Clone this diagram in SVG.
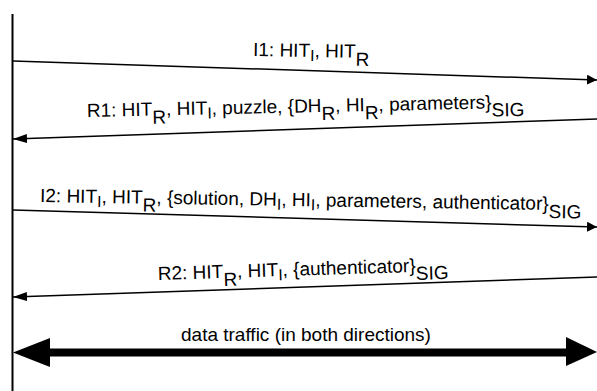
<svg xmlns="http://www.w3.org/2000/svg" width="597" height="391" viewBox="0 0 597 391">
<style>
text{font-family:"Liberation Sans",Arial,sans-serif;font-size:19px;fill:#000}
.si{font-size:16px}
.sr{font-size:19px}
.msg{stroke:#000;stroke-width:1.5;fill:none}
</style>
<defs>
<marker id="ah" viewBox="0 0 10 10" refX="10" refY="5" markerWidth="10" markerHeight="10" markerUnits="userSpaceOnUse" orient="auto">
<path d="M0,0 L10,5 L0,10 Z" fill="#000"/>
</marker>
<marker id="ahl" viewBox="0 0 14 9" refX="14" refY="4.5" markerWidth="14" markerHeight="9" markerUnits="userSpaceOnUse" orient="auto">
<path d="M0,0 L14,4.5 L0,9 Z" fill="#000"/>
</marker>
</defs>
<rect width="597" height="391" fill="#fff"/>
<g id="lifeline">
<line x1="12.5" y1="14" x2="12.5" y2="391" stroke="#000" stroke-width="2"/>
</g>
<g id="connectors">
<line class="msg" x1="13" y1="61" x2="597" y2="80" marker-end="url(#ah)"/>
<line class="msg" x1="597" y1="119" x2="13" y2="139" marker-end="url(#ahl)"/>
<line class="msg" x1="13" y1="210" x2="597" y2="227" marker-end="url(#ah)"/>
<line class="msg" x1="597" y1="277" x2="13" y2="297" marker-end="url(#ahl)"/>
<g id="data-traffic">
<line x1="48" y1="352.5" x2="568" y2="352.5" stroke="#000" stroke-width="8"/>
<polygon points="13,352.5 50,338 50,367" fill="#000"/>
<polygon points="597,352 566,337 566,366" fill="#000"/>
</g>
</g>
<g id="label-I1">
<text x="253" y="56" transform="rotate(1 253 56)">I1: HIT<tspan class="si" dy="4">I</tspan><tspan dy="-4">, HIT</tspan><tspan class="sr" dy="8">R</tspan></text>
</g>
<g id="label-R1">
<text x="87" y="117" transform="rotate(-1.2 87 117)">R1: HIT<tspan class="sr" dy="8">R</tspan><tspan dy="-8">, HIT</tspan><tspan class="si" dy="4">I</tspan><tspan dy="-4">, puzzle, {DH</tspan><tspan class="sr" dy="8">R</tspan><tspan dy="-8">, HI</tspan><tspan class="sr" dy="8">R</tspan><tspan dy="-8">, parameters}</tspan><tspan class="sr" dy="8">SIG</tspan></text>
</g>
<g id="label-I2">
<text x="40" y="202" transform="rotate(0.9 40 202)">I2: HIT<tspan class="si" dy="4">I</tspan><tspan dy="-4">, HIT</tspan><tspan class="sr" dy="8">R</tspan><tspan dy="-8">, {solution, DH</tspan><tspan class="si" dy="4">I</tspan><tspan dy="-4">, HI</tspan><tspan class="si" dy="4">I</tspan><tspan dy="-4">, parameters, authenticator}</tspan><tspan class="sr" dy="8">SIG</tspan></text>
</g>
<g id="label-R2">
<text x="158" y="280" transform="rotate(-1.8 158 280)">R2: HIT<tspan class="sr" dy="8">R</tspan><tspan dy="-8">, HIT</tspan><tspan class="si" dy="4">I</tspan><tspan dy="-4">, {authenticator}</tspan><tspan class="sr" dy="8">SIG</tspan></text>
</g>
<g id="label-data">
<text x="181" y="341">data traffic (in both directions)</text>
</g>
</svg>
